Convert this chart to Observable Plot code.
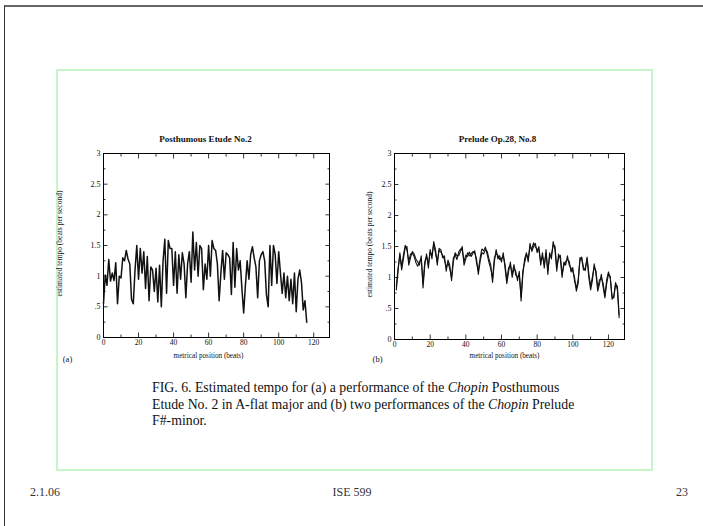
<!DOCTYPE html>
<html>
<head>
<meta charset="utf-8">
<script src="https://cdn.jsdelivr.net/npm/d3@7"></script>
<script src="https://cdn.jsdelivr.net/npm/@observablehq/plot@0.6"></script>
<style>
  html, body { margin: 0; padding: 0; background: #fff; }
  body { width: 703px; height: 526px; position: relative; overflow: hidden; font-family: "Liberation Serif", "DejaVu Serif", serif; }
  .abs { position: absolute; }
  #page { left: 4px; top: 5px; width: 699px; height: 521px; border-top: 2px solid #666; border-left: 1px solid #333; box-sizing: border-box; }
  #green { left: 56px; top: 69px; width: 597px; height: 402px; border: 2px solid #c8f5c8; box-sizing: border-box; }
  #caption { left: 152px; top: 380px; font-size: 13.8px; line-height: 16.5px; color: #111; white-space: nowrap; }
  .foot { top: 485px; font-size: 12px; color: #333; }
  svg { overflow: visible; }
</style>
</head>
<body>
<div id="page" class="abs"></div>
<div id="green" class="abs"></div>
<div id="plotA" class="abs" style="left:60px;top:120px;"></div>
<div id="plotB" class="abs" style="left:360px;top:120px;"></div>
<div id="caption" class="abs">FIG. 6. Estimated tempo for (a) a performance of the <i>Chopin</i> Posthumous<br>Etude No. 2 in A-flat major and (b) two performances of the <i>Chopin</i> Prelude<br>F#-minor.</div>
<div class="abs foot" style="left:30px;">2.1.06</div>
<div class="abs foot" style="left:330px;width:44px;text-align:center;">ISE 599</div>
<div class="abs foot" style="left:660px;width:28px;text-align:right;">23</div>
<script>
// Posthumous Etude No.2 — estimated tempo per beat, beats 0..116
const etudeTempo = [
  0.55, 1.02, 0.85, 1.27, 0.92, 1.05, 0.93, 1.22, 0.55, 1.00,
  0.97, 1.30, 1.25, 1.42, 1.28, 1.20, 0.62, 0.55, 1.10, 1.50,
  0.95, 1.45, 1.05, 1.40, 0.80, 1.32, 0.60, 1.15, 1.10, 0.75,
  1.13, 0.58, 1.18, 0.50, 1.25, 1.60, 0.72, 1.58, 1.45, 1.45,
  0.85, 1.40, 0.72, 1.35, 0.95, 1.38, 1.20, 0.65, 1.20, 1.40,
  0.90, 1.72, 1.10, 1.55, 1.00, 1.50, 1.45, 0.78, 1.20, 0.95,
  1.50, 1.00, 1.58, 1.45, 1.42, 1.20, 0.60, 1.05, 1.42, 0.95,
  1.38, 1.35, 1.30, 0.70, 1.55, 0.82, 1.45, 1.10, 1.25, 0.80,
  0.40, 0.85, 1.25, 0.95, 1.35, 1.48, 1.30, 1.15, 0.65, 1.25,
  1.35, 1.40, 1.25, 0.70, 0.50, 1.50, 0.85, 1.50, 1.35, 0.88,
  1.40, 1.05, 0.72, 1.05, 0.65, 1.00, 0.60, 0.95, 0.55, 1.05,
  0.42, 0.95, 1.10, 0.90, 0.45, 0.60, 0.25
];
const etudeStart = 0;

// Prelude Op.28 No.8 — two performances, beats 1..126
const preludeTempoA = [
  0.80, 1.10, 1.40, 1.12, 1.30, 1.48, 1.50, 1.20, 1.32, 1.42,
  1.38, 1.30, 1.25, 1.20, 1.35, 0.83, 1.20, 1.38, 1.15, 1.45,
  1.30, 1.58, 1.45, 1.20, 1.47, 1.45, 1.32, 1.35, 1.10, 1.28,
  1.20, 0.95, 1.25, 1.40, 1.35, 1.35, 1.42, 1.50, 1.20, 1.30,
  1.40, 1.35, 1.38, 1.42, 1.40, 1.30, 1.05, 1.25, 1.40, 1.38,
  1.45, 1.42, 1.30, 1.20, 0.92, 1.25, 1.45, 1.30, 1.35, 1.25,
  1.40, 1.15, 0.90, 1.10, 1.25, 1.00, 1.15, 1.10, 0.95, 1.10,
  0.62, 1.05, 1.30, 1.40, 1.25, 1.55, 1.42, 1.50, 1.55, 1.40,
  1.50, 1.20, 1.40, 1.15, 1.45, 1.05, 1.40, 1.30, 1.58, 1.45,
  1.10, 1.38, 1.30, 1.00, 1.25, 1.20, 1.35, 1.20, 1.15, 1.10,
  1.00, 0.78, 0.90, 1.32, 1.30, 1.12, 1.15, 1.30, 1.00, 0.80,
  0.95, 1.22, 1.05, 0.78, 0.90, 1.05, 0.85, 0.67, 0.90, 1.05,
  1.02, 0.65, 0.70, 0.92, 0.80, 0.35
];
const preludeTempoB = [
  0.85, 1.15, 1.36, 1.18, 1.36, 1.52, 1.44, 1.26, 1.38, 1.39,
  1.34, 1.24, 1.18, 1.26, 1.29, 0.90, 1.26, 1.34, 1.21, 1.41,
  1.36, 1.54, 1.39, 1.26, 1.44, 1.41, 1.36, 1.29, 1.16, 1.24,
  1.14, 1.01, 1.31, 1.37, 1.29, 1.41, 1.46, 1.44, 1.26, 1.36,
  1.34, 1.41, 1.34, 1.39, 1.43, 1.24, 1.11, 1.31, 1.46, 1.43,
  1.49, 1.37, 1.24, 1.14, 0.99, 1.31, 1.39, 1.36, 1.29, 1.31,
  1.34, 1.21, 0.96, 1.16, 1.19, 1.06, 1.21, 1.04, 1.01, 1.04,
  0.69, 1.11, 1.24, 1.37, 1.31, 1.49, 1.46, 1.56, 1.49, 1.46,
  1.44, 1.26, 1.34, 1.21, 1.39, 1.11, 1.34, 1.36, 1.51, 1.51,
  1.16, 1.31, 1.36, 1.06, 1.19, 1.26, 1.29, 1.26, 1.09, 1.16,
  0.94, 0.83, 0.96, 1.27, 1.33, 1.16, 1.11, 1.33, 1.06, 0.86,
  1.01, 1.17, 1.11, 0.83, 0.96, 0.99, 0.91, 0.71, 0.96, 1.09,
  0.99, 0.71, 0.67, 0.89, 0.86, 0.40
];
const preludeStart = 1;

const titles = ["Posthumous Etude No.2", "Prelude Op.28, No.8"];
const panelLabels = ["(a)", "(b)"];
const xLabel = "metrical position (beats)";
const yLabel = "estimated tempo (beats per second)";
const xMajor = [0, 20, 40, 60, 80, 100, 120];
const xMinor = [10, 30, 50, 70, 90, 110];
const yMajor = [0, 0.5, 1, 1.5, 2, 2.5, 3];
const yMinor = [0.25, 0.75, 1.25, 1.75, 2.25, 2.75];
const yTickLabels = ["0", ".5", "1", "1.5", "2", "2.5", "3"];

const FONT = "Liberation Serif";

function panel({series, start, title, label, width, height, margins, off, lineWidth}) {
  const yFmt = d => yTickLabels[yMajor.indexOf(d)];
  const tickStyle = {stroke: "black", strokeWidth: 0.8};
  const marks = [
    Plot.frame({stroke: "black", strokeWidth: 1}),
    ...["left", "right"].flatMap(a => [
      Plot.axisY(yMajor, {anchor: a, tickSize: -4.5, tickFormat: () => "", ...tickStyle}),
      Plot.axisY(yMinor, {anchor: a, tickSize: -2.5, tickFormat: () => "", ...tickStyle})
    ]),
    ...["top", "bottom"].flatMap(a => [
      Plot.axisX(xMajor, {anchor: a, tickSize: -4.5, tickFormat: () => "", ...tickStyle}),
      Plot.axisX(xMinor, {anchor: a, tickSize: -2.5, tickFormat: () => "", ...tickStyle})
    ]),
    Plot.axisY(yMajor, {anchor: "left", tickSize: 0, tickPadding: 3, tickFormat: yFmt, fontSize: 8, fill: "#111"}),
    Plot.axisX(xMajor, {anchor: "bottom", tickSize: 0, tickPadding: 2, fontSize: 7.5, fill: "#111"}),
    ...series.map(s => Plot.line(s, {x: (d, i) => i + start, y: d => d, stroke: "#111", strokeWidth: lineWidth, strokeLinejoin: "round"})),
    Plot.text([title], {frameAnchor: "top", dx: off.tdx, dy: -14, fontWeight: "bold", fontSize: 9, textAnchor: "middle", lineAnchor: "middle", fill: "#111"}),
    Plot.text([xLabel], {frameAnchor: "bottom", dx: off.xdx, dy: off.xdy, fontSize: 7.2, textAnchor: "middle", lineAnchor: "middle", fill: "#111"}),
    Plot.text([yLabel], {frameAnchor: "left", dx: off.ydx, dy: -2, rotate: -90, fontSize: 7.5, textAnchor: "middle", lineAnchor: "middle", fill: "#111"}),
    Plot.text([label], {frameAnchor: "bottom-left", dx: off.ldx, dy: off.ldy, fontSize: 8.5, textAnchor: "middle", lineAnchor: "middle", fill: "#111"})
  ];
  return Plot.plot({
    width, height,
    marginLeft: margins[0], marginTop: margins[1], marginRight: margins[2], marginBottom: margins[3],
    x: {domain: [0, 129], axis: null},
    y: {domain: [0, 3], axis: null},
    style: {fontFamily: FONT, background: "transparent", overflow: "visible"},
    marks
  });
}

document.getElementById("plotA").appendChild(panel({
  series: [etudeTempo], start: etudeStart, title: titles[0], label: panelLabels[0],
  width: 285, height: 255, margins: [43, 33, 16, 38], lineWidth: 1.5,
  off: {tdx: -11, xdx: -8, xdy: 18, ydx: -44, ldx: -36, ldy: 22}
}));
document.getElementById("plotB").appendChild(panel({
  series: [preludeTempoA, preludeTempoB], start: preludeStart, title: titles[1], label: panelLabels[1],
  width: 280, height: 255, margins: [34, 33, 16, 36], lineWidth: 1.1,
  off: {tdx: -12, xdx: -5, xdy: 16, ydx: -25, ldx: -17, ldy: 20}
}));
</script>
</body>
</html>
